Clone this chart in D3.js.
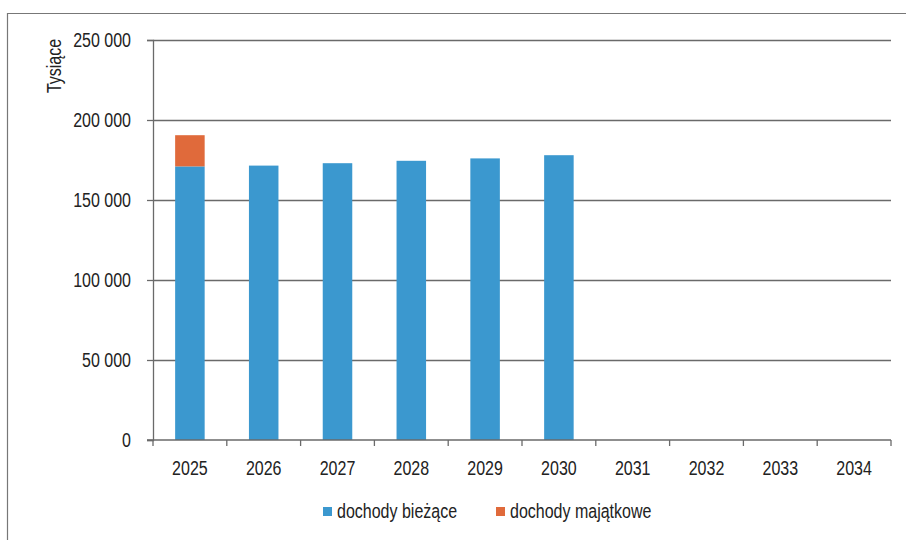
<!DOCTYPE html>
<html>
<head>
<meta charset="utf-8">
<script src="https://cdn.jsdelivr.net/npm/d3@7"></script>
<style>
  body { margin: 0; background: #fff; }
  svg text { font-family: "Liberation Sans", Arial, sans-serif; fill: #222; }
</style>
</head>
<body>
<svg width="906" height="543"></svg>
<script>
// data (tys. zł)
var years = ["2025", "2026", "2027", "2028", "2029", "2030", "2031", "2032", "2033", "2034"];
var biezace = [171000, 171500, 173000, 174500, 176000, 178000, 0, 0, 0, 0];
var majatkowe = [19500, 0, 0, 0, 0, 0, 0, 0, 0, 0];
var seriesNames = ["dochody bieżące", "dochody majątkowe"];
var yTicks = [0, 50000, 100000, 150000, 200000, 250000];

var colors = ["#3b98cf", "#e06a3b"];
var fs = 20, sx = 0.8;   // narrow look (no Arial Narrow here)

// squeeze text horizontally around its own anchor
function narrow(sel) {
    sel.each(function() {
        var t = d3.select(this);
        var x0 = +t.attr("x") || 0, y0 = +t.attr("y") || 0;
        t.attr("x", 0).attr("y", 0)
         .attr("transform", "translate(" + x0 + "," + y0 + ") scale(" + sx + ",1)");
    });
}

var svg = d3.select("svg"),
    margin = {top: 40, right: 15, bottom: 103, left: 153},
    width = +svg.attr("width") - margin.left - margin.right,
    height = +svg.attr("height") - margin.top - margin.bottom,
    g = svg.append("g").attr("transform", "translate(" + margin.left + "," + margin.top + ")");

// outer frame (scanned border)
svg.append("path")
    .attr("d", "M7.5,540 L7.5,13.5 L906,13.5")
    .attr("fill", "none")
    .attr("stroke", "#777")
    .attr("stroke-width", 1.2);

var table = years.map((y, i) => ({year: y, biezace: biezace[i], majatkowe: majatkowe[i]}));
var stack = d3.stack().keys(["biezace", "majatkowe"])(table);

var x = d3.scaleBand()
    .domain(years)
    .range([0, width])
    .paddingInner(0.6)
    .paddingOuter(0.3);

var y = d3.scaleLinear()
    .domain([0, 250000])
    .range([height, 0]);

// gridlines
g.append("g")
    .selectAll("line")
    .data(yTicks.slice(1))
    .enter().append("line")
    .attr("x1", 0)
    .attr("x2", width)
    .attr("y1", d => y(d) + 0.5)
    .attr("y2", d => y(d) + 0.5)
    .attr("stroke", "#6a6a6a")
    .attr("stroke-width", 1.3);

// bars
g.selectAll(".serie")
    .data(stack)
    .enter().append("g")
    .attr("fill", (d, i) => colors[i])
    .selectAll("rect")
    .data(d => d)
    .enter().append("rect")
    .attr("x", d => x(d.data.year))
    .attr("y", d => y(d[1]))
    .attr("width", x.bandwidth())
    .attr("height", d => y(d[0]) - y(d[1]));

// y axis
var yAxis = g.append("g")
    .call(d3.axisLeft(y).tickValues(yTicks).tickSize(6).tickPadding(16)
        .tickFormat(d => d3.format(",")(d).replace(/,/g, " ")));
yAxis.selectAll("text").attr("font-size", fs).attr("fill", "#222").call(narrow);
yAxis.selectAll(".domain").attr("stroke", "#6a6a6a").attr("stroke-width", 1.3);
yAxis.selectAll(".tick line").attr("stroke", "#6a6a6a").attr("stroke-width", 1.3);

// x axis with ticks between categories
var xAxis = g.append("g")
    .attr("transform", "translate(0," + height + ")");
xAxis.append("line")
    .attr("x1", -6).attr("x2", width)
    .attr("stroke", "#6a6a6a").attr("stroke-width", 1.3);
xAxis.selectAll(".tk")
    .data(d3.range(years.length + 1))
    .enter().append("line")
    .attr("x1", d => d * width / years.length)
    .attr("x2", d => d * width / years.length)
    .attr("y1", 0).attr("y2", 6)
    .attr("stroke", "#6a6a6a").attr("stroke-width", 1.3);
xAxis.selectAll(".lbl")
    .data(years)
    .enter().append("text")
    .attr("x", d => x(d) + x.bandwidth() / 2)
    .attr("y", 35)
    .attr("text-anchor", "middle")
    .attr("font-size", fs)
    .text(d => d)
    .call(narrow);

// y axis title
svg.append("text")
    .attr("transform", "translate(61,66) rotate(-90) scale(" + sx + ",1)")
    .attr("text-anchor", "middle")
    .attr("font-size", fs)
    .text("Tysiące");

// legend
var legend = svg.append("g").attr("transform", "translate(323,507)");
var lx = [0, 173];
seriesNames.forEach((name, i) => {
    var item = legend.append("g").attr("transform", "translate(" + lx[i] + ",0)");
    item.append("rect").attr("width", 9).attr("height", 9).attr("fill", colors[i]);
    item.append("text").attr("x", 14).attr("y", 11).attr("font-size", fs).text(name).call(narrow);
});
</script>
</body>
</html>
